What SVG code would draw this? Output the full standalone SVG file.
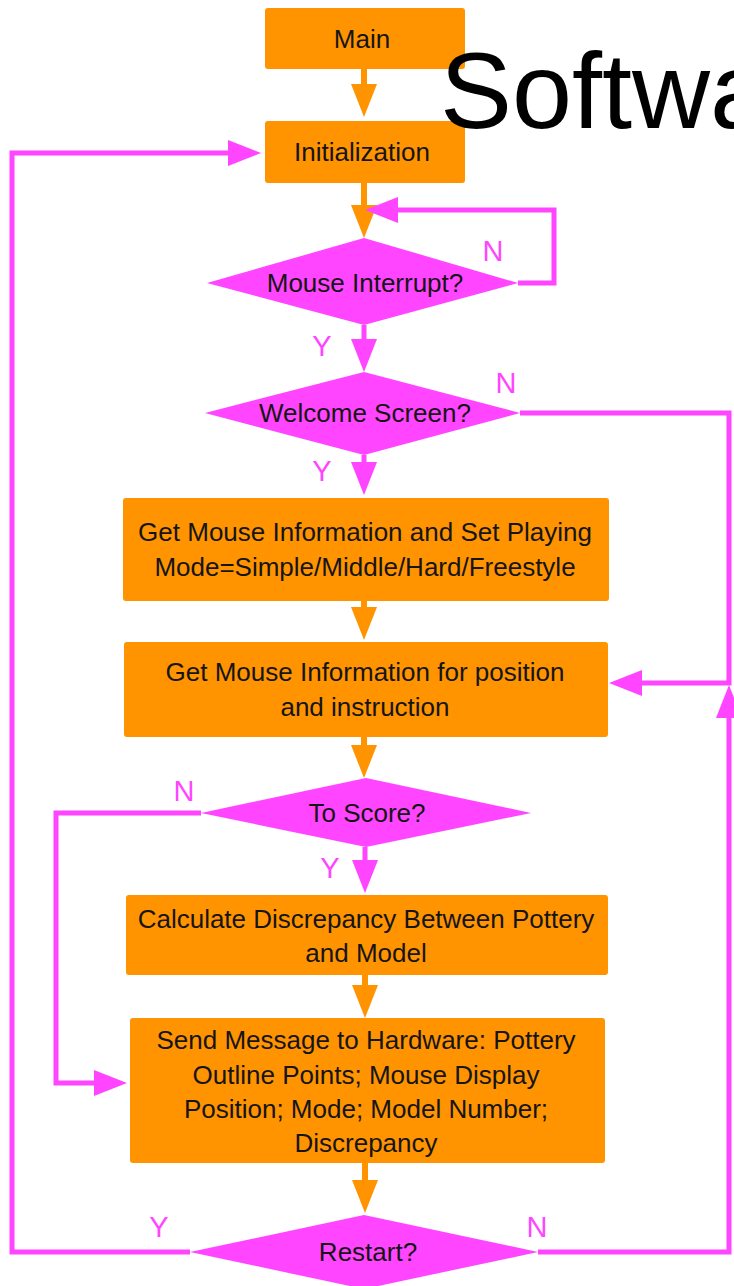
<svg xmlns="http://www.w3.org/2000/svg" width="734" height="1286" viewBox="0 0 734 1286">
<style>
.box{fill:#FF9300}
.dia{fill:#FF45FF}
.t{font-family:"Liberation Sans",Arial,sans-serif;font-size:26px;fill:#151515;text-anchor:middle}
.lbl{font-family:"Liberation Sans",Arial,sans-serif;font-size:29px;fill:#FF45FF;text-anchor:middle}
.cm{fill:none;stroke:#FF45FF;stroke-width:5;stroke-linejoin:miter}
.co{fill:none;stroke:#FF9300;stroke-width:6}
.title{font-family:"Liberation Sans",Arial,sans-serif;font-size:108px;fill:#000}
</style>
<defs>
<marker id="am" markerUnits="userSpaceOnUse" markerWidth="34" markerHeight="28" refX="0" refY="14" orient="auto" overflow="visible">
<path d="M0,1 L33,14 L0,27 Z" fill="#FF45FF"/>
</marker>
<marker id="ao" markerUnits="userSpaceOnUse" markerWidth="34" markerHeight="28" refX="0" refY="14" orient="auto" overflow="visible">
<path d="M0,1 L33,14 L0,27 Z" fill="#FF9300"/>
</marker>
</defs>
<rect width="734" height="1286" fill="#fff"/>
<g id="connectors">
<path class="co" d="M364,69 V84" marker-end="url(#ao)"/>
<path class="co" d="M364,183 V205" marker-end="url(#ao)"/>
<path class="cm" d="M518,283 H554 V210 H398" marker-end="url(#am)"/>
<path class="cm" d="M364,325 V339" marker-end="url(#am)"/>
<path class="cm" d="M520,413 H729 V683 H642" marker-end="url(#am)"/>
<path class="cm" d="M364,455 V462" marker-end="url(#am)"/>
<path class="co" d="M364,601 V607" marker-end="url(#ao)"/>
<path class="co" d="M364,737 V745" marker-end="url(#ao)"/>
<path class="cm" d="M201,813 H56 V1083 H94" marker-end="url(#am)"/>
<path class="cm" d="M365,847 V860" marker-end="url(#am)"/>
<path class="co" d="M365,975 V985" marker-end="url(#ao)"/>
<path class="co" d="M365,1163 V1180" marker-end="url(#ao)"/>
<path class="cm" d="M190,1252 H12 V153 H228" marker-end="url(#am)"/>
<path class="cm" d="M538,1252 H729 V718" marker-end="url(#am)"/>
</g>
<g id="labels">
<text class="lbl" x="493" y="261">N</text>
<text class="lbl" x="322" y="356">Y</text>
<text class="lbl" x="506" y="393">N</text>
<text class="lbl" x="322" y="481">Y</text>
<text class="lbl" x="184" y="801">N</text>
<text class="lbl" x="330" y="878">Y</text>
<text class="lbl" x="159" y="1237">Y</text>
<text class="lbl" x="537" y="1237">N</text>
</g>
<g id="main">
<rect class="box" x="265" y="8" width="200" height="61" rx="3"/>
<text class="t" x="362" y="48">Main</text>
</g>
<g id="init">
<rect class="box" x="265" y="121" width="200" height="62" rx="3"/>
<text class="t" x="362" y="161">Initialization</text>
</g>
<g id="mouse-interrupt">
<polygon class="dia" points="364,238 518,283 364,325 207,283"/>
<text class="t" x="365" y="292">Mouse Interrupt?</text>
</g>
<g id="welcome">
<polygon class="dia" points="364,372 520,413 364,455 205,413"/>
<text class="t" x="365" y="422">Welcome Screen?</text>
</g>
<g id="set-mode">
<rect class="box" x="123" y="498" width="486" height="103" rx="3"/>
<text class="t" x="365" y="541">Get Mouse Information and Set Playing</text>
<text class="t" x="365" y="576">Mode=Simple/Middle/Hard/Freestyle</text>
</g>
<g id="get-position">
<rect class="box" x="124" y="642" width="484" height="95" rx="3"/>
<text class="t" x="365" y="681">Get Mouse Information for position</text>
<text class="t" x="365" y="716">and instruction</text>
</g>
<g id="to-score">
<polygon class="dia" points="366,778 531,813 366,847 201,813"/>
<text class="t" x="367" y="822">To Score?</text>
</g>
<g id="calculate">
<rect class="box" x="126" y="895" width="482" height="80" rx="3"/>
<text class="t" x="366" y="928">Calculate Discrepancy Between Pottery</text>
<text class="t" x="366" y="962">and Model</text>
</g>
<g id="send">
<rect class="box" x="130" y="1018" width="475" height="145" rx="3"/>
<text class="t" x="366" y="1049">Send Message to Hardware: Pottery</text>
<text class="t" x="366" y="1084">Outline Points; Mouse Display</text>
<text class="t" x="366" y="1118">Position; Mode; Model Number;</text>
<text class="t" x="366" y="1152">Discrepancy</text>
</g>
<g id="restart">
<polygon class="dia" points="364,1215 538,1252 364,1289 190,1252"/>
<text class="t" x="368" y="1261">Restart?</text>
</g>
<text class="title" x="440" y="128">Software</text>
</svg>
